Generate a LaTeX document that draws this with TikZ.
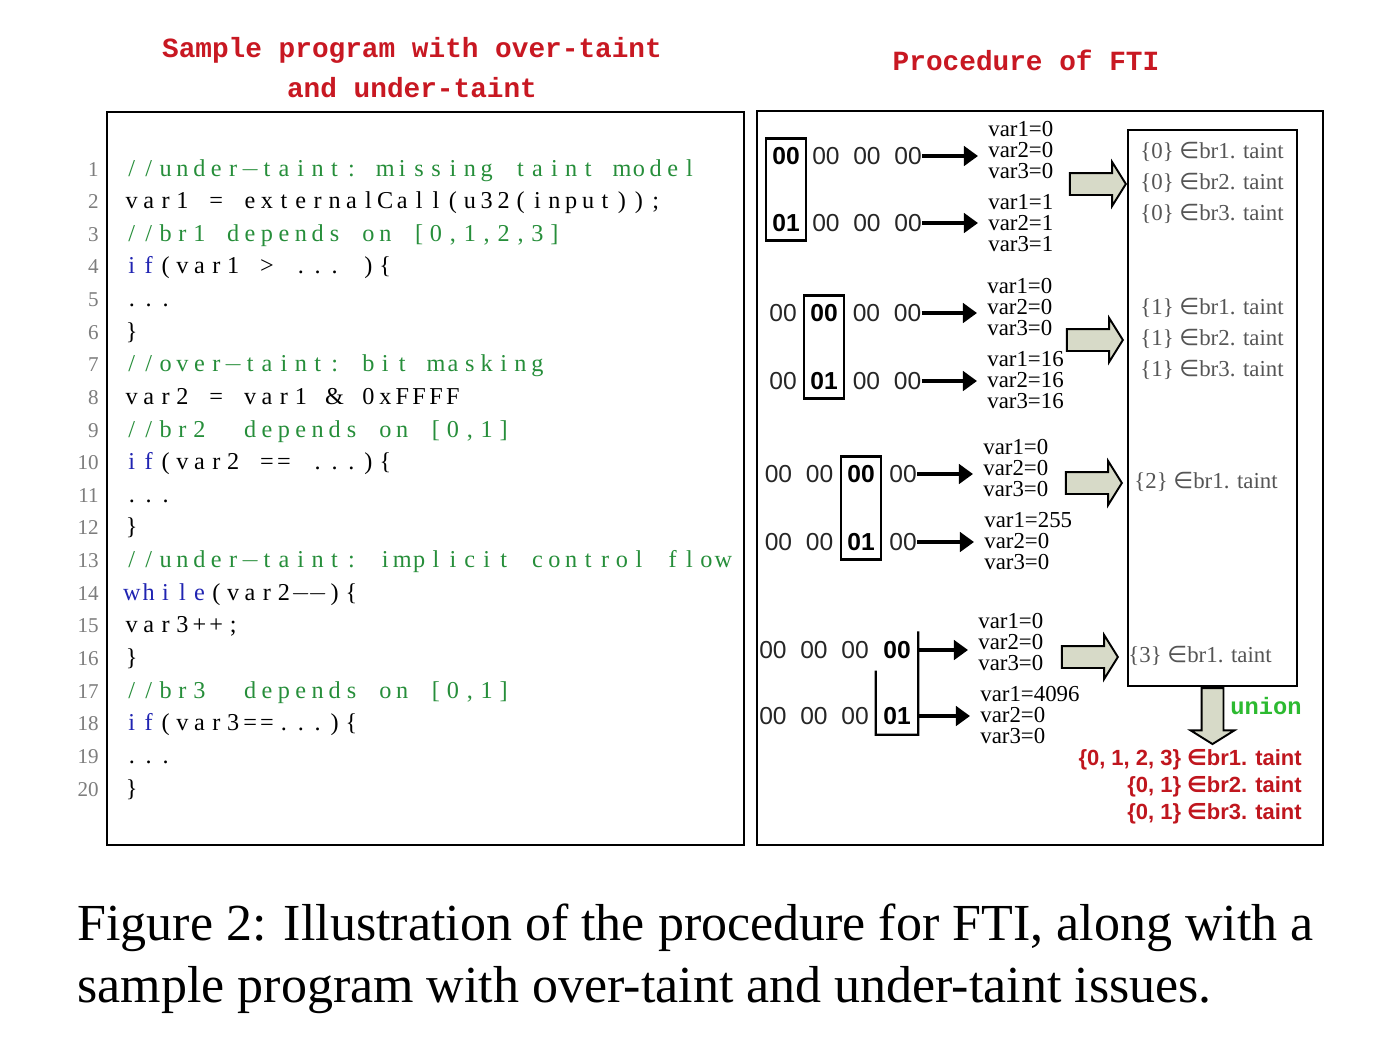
\documentclass[tikz,border=0pt]{standalone}
\usepackage{fontspec}
\setmainfont{Liberation Serif}
\newfontfamily\codefont{Liberation Serif}
\newfontfamily\headfont{Liberation Mono}
\newfontfamily\bytefont{Liberation Sans}
\newfontfamily\symbfont{DejaVu Sans}
\usetikzlibrary{arrows.meta, positioning, shapes.arrows, fit, calc}

\definecolor{titleRed}{RGB}{200,24,34}
\definecolor{mergeRed}{RGB}{192,22,30}
\definecolor{codeGreen}{RGB}{38,142,58}
\definecolor{codeBlue}{RGB}{32,36,178}
\definecolor{numGray}{RGB}{125,125,125}
\definecolor{taintGray}{RGB}{85,85,85}
\definecolor{unionGreen}{RGB}{44,186,48}
\definecolor{arrowFill}{RGB}{215,218,200}

% fixed-width cells, one per character
\ExplSyntaxOn
\NewDocumentCommand \codecells { O{black} v }
  {
    \group_begin:
    \color{#1}
    \str_map_inline:nn {#2}
      {
        \str_if_eq:nnTF {##1} {-}
          { \makebox[9.62pt]{$-$} }
          { \makebox[9.62pt]{##1} }
      }
    \group_end:
  }
\ExplSyntaxOff

\tikzset{
    >=Latex,
    fti_title/.style={
        text=titleRed,
        font=\headfont\bfseries\fontsize{15.8}{22.7}\selectfont,
        align=center
    },
    panel_box/.style={
        rectangle,
        draw,
        line width=1.6pt,
        inner sep=0pt
    },
    code_line/.style={
        anchor=base west,
        inner sep=0pt,
        font=\codefont\fontsize{13.8}{15}\selectfont
    },
    code_num/.style={
        anchor=base east,
        inner sep=0pt,
        text=numGray,
        font=\codefont\fontsize{12}{14}\selectfont
    },
    byte_plain/.style={
        inner sep=0pt,
        text=black!85,
        font=\bytefont\fontsize{14}{16}\selectfont
    },
    byte_mark/.style={
        inner sep=0pt,
        font=\bytefont\bfseries\fontsize{14}{16}\selectfont
    },
    byte_box/.style={
        rectangle,
        draw,
        line width=1.3pt,
        inner xsep=0.12cm,
        inner ysep=0.17cm
    },
    var_list/.style={
        anchor=west,
        inner sep=0pt,
        align=left,
        font=\codefont\fontsize{13}{11.9}\selectfont
    },
    taint_list/.style={
        anchor=west,
        inner sep=0pt,
        align=left,
        text=taintGray,
        font=\codefont\fontsize{13}{17.6}\selectfont
    },
    taint_result/.style={
        anchor=east,
        inner sep=0pt,
        align=right,
        text=mergeRed,
        font=\bytefont\bfseries\fontsize{12.5}{15.3}\selectfont
    },
    merge_arrow/.style={
        single arrow,
        draw,
        fill=arrowFill,
        line width=1.1pt,
        inner sep=0.2cm,
        minimum width=0.84cm,
        minimum height=1.12cm,
        single arrow head extend=0.22cm,
        single arrow tip angle=116
    },
    fti_arrow/.style={
        -{Triangle[length=8pt, width=11pt]},
        line width=2.2pt,
        shorten >=0.2cm
    },
    caption_line/.style={
        anchor=base west,
        inner sep=0pt,
        font=\fontsize{29.6}{36}\selectfont
    }
}

\begin{document}
\begin{tikzpicture}[x=0.02cm, y=-0.02cm]
\useasboundingbox[fill=white] (0,0) rectangle (1378,1056);

% --- Titles ---
\node[fti_title] (ProgTitle) at (412,68) {Sample program with over-taint\\and under-taint};
\node[fti_title] (FtiTitle) at (1026,60) {Procedure of FTI};

% --- Panels ---
\node[panel_box, minimum width=12.74cm, minimum height=14.66cm] (ProgBox) at (425.5,478.5) {};
\node[panel_box, minimum width=11.32cm, minimum height=14.68cm] (FtiBox) at (1040,478) {};

% --- Sample program ---
\node[code_num] (Num1) at (99,176) {1};
\node[code_num] (Num2) at (99,208.6) {2};
\node[code_num] (Num3) at (99,241.3) {3};
\node[code_num] (Num4) at (99,273.9) {4};
\node[code_num] (Num5) at (99,306.5) {5};
\node[code_num] (Num6) at (99,339.2) {6};
\node[code_num] (Num7) at (99,371.8) {7};
\node[code_num] (Num8) at (99,404.4) {8};
\node[code_num] (Num9) at (99,437) {9};
\node[code_num] (Num10) at (99,469.7) {10};
\node[code_num] (Num11) at (99,502.3) {11};
\node[code_num] (Num12) at (99,534.9) {12};
\node[code_num] (Num13) at (99,567.6) {13};
\node[code_num] (Num14) at (99,600.2) {14};
\node[code_num] (Num15) at (99,632.8) {15};
\node[code_num] (Num16) at (99,665.5) {16};
\node[code_num] (Num17) at (99,698.1) {17};
\node[code_num] (Num18) at (99,730.7) {18};
\node[code_num] (Num19) at (99,763.3) {19};
\node[code_num] (Num20) at (99,796) {20};

\node[code_line] (Line1) at (123,176) {\codecells[codeGreen]|//under-taint: missing taint model|};
\node[code_line] (Line2) at (123,208.6) {\codecells|var1 = externalCall(u32(input));|};
\node[code_line] (Line3) at (123,241.3) {\codecells[codeGreen]|//br1 depends on [0,1,2,3]|};
\node[code_line] (Line4) at (123,273.9) {\codecells[codeBlue]|if|\codecells|(var1 > ... ){|};
\node[code_line] (Line5) at (123,306.5) {\codecells|...|};
\node[code_line] (Line6) at (123,339.2) {\codecells|}|};
\node[code_line] (Line7) at (123,371.8) {\codecells[codeGreen]|//over-taint: bit masking|};
\node[code_line] (Line8) at (123,404.4) {\codecells|var2 = var1 & 0xFFFF|};
\node[code_line] (Line9) at (123,437) {\codecells[codeGreen]|//br2  depends on [0,1]|};
\node[code_line] (Line10) at (123,469.7) {\codecells[codeBlue]|if|\codecells|(var2 == ...){|};
\node[code_line] (Line11) at (123,502.3) {\codecells|...|};
\node[code_line] (Line12) at (123,534.9) {\codecells|}|};
\node[code_line] (Line13) at (123,567.6) {\codecells[codeGreen]|//under-taint: implicit control flow|};
\node[code_line] (Line14) at (123,600.2) {\codecells[codeBlue]|while|\codecells|(var2--){|};
\node[code_line] (Line15) at (123,632.8) {\codecells|var3++;|};
\node[code_line] (Line16) at (123,665.5) {\codecells|}|};
\node[code_line] (Line17) at (123,698.1) {\codecells[codeGreen]|//br3  depends on [0,1]|};
\node[code_line] (Line18) at (123,730.7) {\codecells[codeBlue]|if|\codecells|(var3==...){|};
\node[code_line] (Line19) at (123,763.3) {\codecells|...|};
\node[code_line] (Line20) at (123,796) {\codecells|}|};

% --- Group 1: byte 0 ---
\node[byte_mark] (BitA1) at (786,156) {00};
\node[byte_mark] (BitB1) at (786,223) {01};
\node[byte_box, fit=(BitA1)(BitB1)] (MarkBox1) {};
\node[byte_plain] (RestA1) at (867,156) {00~~00~~00};
\node[byte_plain] (RestB1) at (867,223) {00~~00~~00};
\node[var_list] (VarsA1) at (988,150) {var1=0\\var2=0\\var3=0};
\node[var_list] (VarsB1) at (988,223) {var1=1\\var2=1\\var3=1};

% --- Group 2: byte 1 ---
\node[byte_plain] (LeadA2) at (783,313) {00};
\node[byte_mark] (BitA2) at (824,313) {00};
\node[byte_plain] (RestA2) at (887,313) {00~~00};
\node[byte_plain] (LeadB2) at (783,381) {00};
\node[byte_mark] (BitB2) at (824,381) {01};
\node[byte_plain] (RestB2) at (887,381) {00~~00};
\node[byte_box, fit=(BitA2)(BitB2)] (MarkBox2) {};
\node[var_list] (VarsA2) at (987,307) {var1=0\\var2=0\\var3=0};
\node[var_list] (VarsB2) at (987,380) {var1=16\\var2=16\\var3=16};

% --- Group 3: byte 2 ---
\node[byte_plain] (LeadA3) at (799,474) {00~~00};
\node[byte_mark] (BitA3) at (861,474) {00};
\node[byte_plain] (RestA3) at (903,474) {00};
\node[byte_plain] (LeadB3) at (799,542) {00~~00};
\node[byte_mark] (BitB3) at (861,542) {01};
\node[byte_plain] (RestB3) at (903,542) {00};
\node[byte_box, fit=(BitA3)(BitB3)] (MarkBox3) {};
\node[var_list] (VarsA3) at (983,468) {var1=0\\var2=0\\var3=0};
\node[var_list] (VarsB3) at (984,541) {var1=255\\var2=0\\var3=0};

% --- Group 4: byte 3 ---
\node[byte_plain] (LeadA4) at (814,650) {00~~00~~00};
\node[byte_mark] (BitA4) at (897,650) {00};
\node[byte_plain] (LeadB4) at (814,716) {00~~00~~00};
\node[byte_mark] (BitB4) at (897,716) {01};
\node[byte_box, draw=none, fit=(BitA4)(BitB4)] (MarkBox4) {};
\draw[line width=1.3pt] ($(MarkBox4.south west)!0.62!(MarkBox4.north west)$) -- (MarkBox4.south west) -- (MarkBox4.south east) -- (MarkBox4.north east);
\node[var_list] (VarsA4) at (978,642) {var1=0\\var2=0\\var3=0};
\node[var_list] (VarsB4) at (980,715) {var1=4096\\var2=0\\var3=0};

% --- Taint result box ---
\node[panel_box, line width=1.3pt, minimum width=3.38cm, minimum height=11.12cm] (ResultBox) at (1212.5,408) {};
\node[taint_list] (Taint1) at (1140,183) {\{0\} {\symbfont ∈}br1. taint\\\{0\} {\symbfont ∈}br2. taint\\\{0\} {\symbfont ∈}br3. taint};
\node[taint_list] (Taint2) at (1140,339) {\{1\} {\symbfont ∈}br1. taint\\\{1\} {\symbfont ∈}br2. taint\\\{1\} {\symbfont ∈}br3. taint};
\node[taint_list] (Taint3) at (1134,482) {\{2\} {\symbfont ∈}br1. taint};
\node[taint_list] (Taint4) at (1128,656) {\{3\} {\symbfont ∈}br1. taint};

\node[merge_arrow, anchor=tip] (Merge1) at (1127,184) {};
\node[merge_arrow, anchor=tip] (Merge2) at (1124,340) {};
\node[merge_arrow, anchor=tip] (Merge3) at (1123,483) {};
\node[merge_arrow, anchor=tip] (Merge4) at (1119,657) {};

% --- Union ---
\node[merge_arrow, shape border rotate=270, anchor=tail] (UnionArrow) at (ResultBox.south) {};
\node[inner sep=0pt, text=unionGreen, font=\headfont\bfseries\fontsize{13.5}{16}\selectfont] (UnionLabel) at (1266,706) {union};
\node[taint_result] (Merged) at (1302,787) {\{0, 1, 2, 3\} {\symbfont ∈}br1. taint\\\{0, 1\} {\symbfont ∈}br2. taint\\\{0, 1\} {\symbfont ∈}br3. taint};

% --- Edges ---
\draw[fti_arrow] (RestA1.east) -- (RestA1.east -| VarsA1.west);
\draw[fti_arrow] (RestB1.east) -- (RestB1.east -| VarsB1.west);
\draw[fti_arrow] (RestA2.east) -- (RestA2.east -| VarsA2.west);
\draw[fti_arrow] (RestB2.east) -- (RestB2.east -| VarsB2.west);
\draw[fti_arrow] (RestA3.east) -- (RestA3.east -| VarsA3.west);
\draw[fti_arrow] (RestB3.east) -- (RestB3.east -| VarsB3.west);
\draw[fti_arrow] (MarkBox4.east |- BitA4) -- (BitA4 -| VarsA4.west);
\draw[fti_arrow] (MarkBox4.east |- BitB4) -- (BitB4 -| VarsB4.west);

% --- Caption ---
\node[caption_line] (CaptionA) at (77,940) {Figure 2: Illustration of the procedure for FTI, along with a};
\node[caption_line] (CaptionB) at (77,1002) {sample program with over-taint and under-taint issues.};

\end{tikzpicture}
\end{document}
